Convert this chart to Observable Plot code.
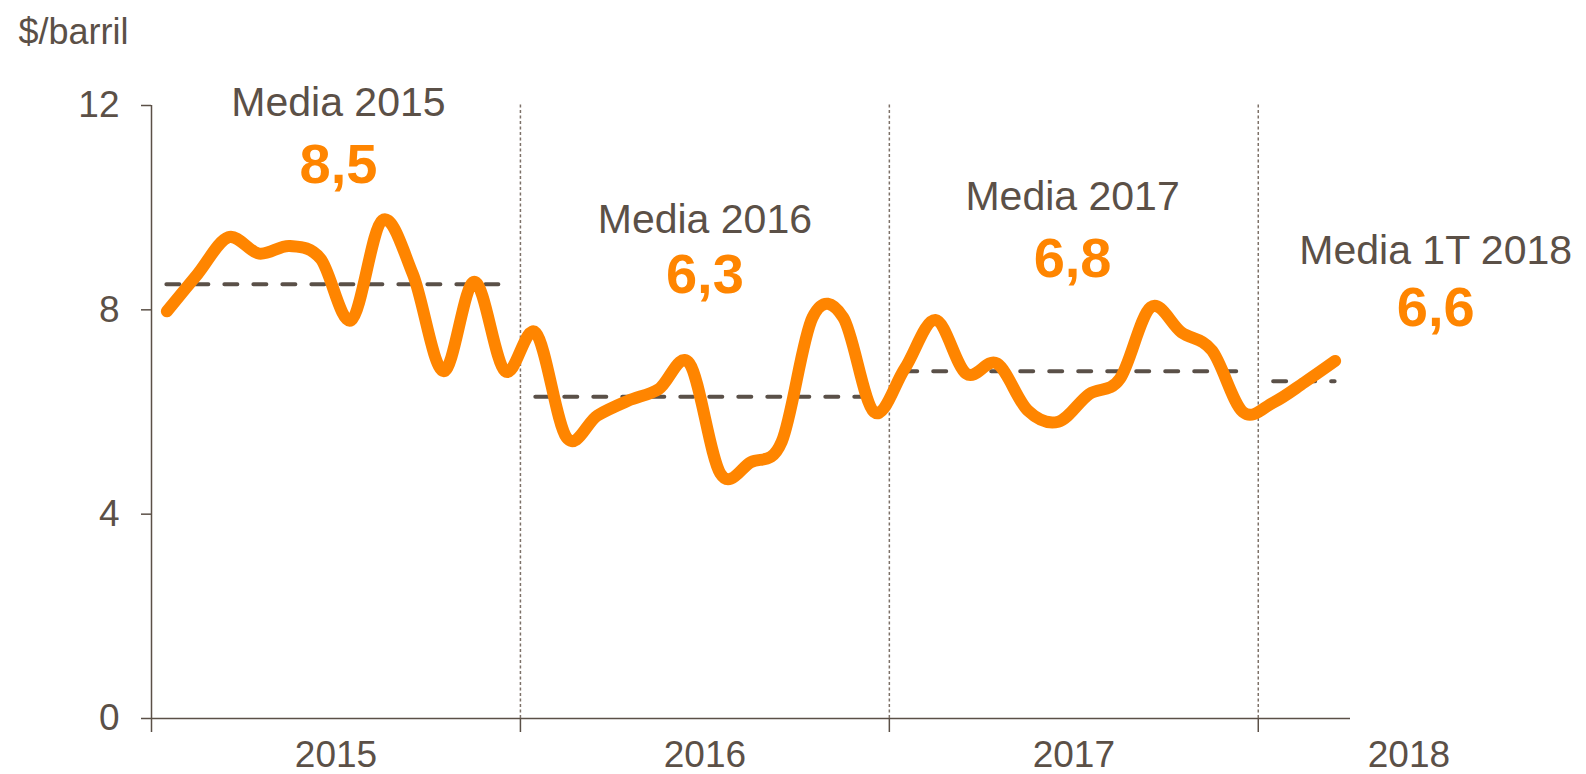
<!DOCTYPE html>
<html>
<head>
<meta charset="utf-8">
<script src="https://cdn.jsdelivr.net/npm/d3@7"></script>
<script src="https://cdn.jsdelivr.net/npm/@observablehq/plot@0.6"></script>
<style>
  html, body { margin: 0; padding: 0; background: #ffffff; }
  #chart { width: 1586px; height: 774px; }
</style>
</head>
<body>
<div id="chart"></div>
<script>
// ---- Data ----
const unitLabel = "$/barril";
const years = ["2015", "2016", "2017", "2018"];
const monthsPerYear = [12, 12, 12, 3];
const values2015 = [7.97, 8.70, 9.42, 9.10, 9.25, 9.00, 7.80, 9.75, 8.70, 6.80, 8.55, 6.80];
const values2016 = [7.55, 5.50, 5.93, 6.22, 6.45, 6.95, 4.80, 5.02, 5.42, 7.85, 7.85, 6.00];
const values2017 = [6.85, 7.80, 6.75, 6.95, 6.03, 5.81, 6.35, 6.65, 8.05, 7.56, 7.20, 6.00];
const values2018 = [6.19, 6.58, 7.00];
const meanLabels = ["Media 2015", "Media 2016", "Media 2017", "Media 1T 2018"];
const meanValues = [8.5, 6.3, 6.8, 6.6];
const yTicks = [0, 4, 8, 12];

// ---- Derived tables ----
const yearValues = [values2015, values2016, values2017, values2018];
const series = yearValues.flat().map((v, i) => ({i, v}));
let acc = 0;
const periods = years.map((y, k) => {
  const start = acc;
  acc += monthsPerYear[k];
  return {year: y, start, end: acc, mean: meanValues[k], label: meanLabels[k],
          num: meanValues[k].toFixed(1).replace(".", ",")};
});
const totalMonths = acc;
const boundaries = periods.slice(1).map(p => p.start);

// annotation placement (data units)
const labelX = [6.08, 18.0, 29.96, 41.77];
const labelY = [11.80, 9.50, 9.95, 8.89];
const numY = [10.49, 8.32, 8.64, 7.69];
const yearLabelX = [6, 18, 30, 40.9];

const ink = "#5b5047";
const orange = "#ff8500";
const font = "'Liberation Sans', Arial, Helvetica, sans-serif";

const chart = Plot.plot({
  width: 1586,
  height: 774,
  marginLeft: 151,
  marginRight: 236,
  marginTop: 105,
  marginBottom: 56,
  style: {fontFamily: font, color: ink, background: "#ffffff", overflow: "visible"},
  x: {domain: [0, totalMonths], axis: null},
  y: {domain: [0, 12], axis: null},
  marks: [
    // y axis
    Plot.axisY({ticks: yTicks, tickSize: 10, tickPadding: 22, fontSize: 37, stroke: ink, strokeWidth: 1.5, color: ink, label: null, anchor: "left"}),
    Plot.ruleX([0], {y1: 0, y2: 12, stroke: ink, strokeWidth: 1.5}),
    // x axis
    Plot.ruleY([0], {stroke: ink, strokeWidth: 1.5}),
    Plot.axisX({ticks: periods.map(p => p.start), tickSize: 14, tickFormat: () => "", stroke: ink, strokeWidth: 1.5, label: null, anchor: "bottom"}),
    Plot.text(years, {x: (d, i) => yearLabelX[i], y: () => 0, text: d => d, dy: 48, lineAnchor: "bottom", fontSize: 37, fill: ink}),
    // year separators
    Plot.ruleX(boundaries, {y1: 0, y2: 12.04, stroke: "#7d7168", strokeWidth: 1.5, strokeDasharray: "3,2.5"}),
    // mean dashed lines
    Plot.ruleY(periods, {y: "mean", x1: d => d.start + 0.5, x2: d => d.end - 0.5, stroke: "#5a5048", strokeWidth: 4, strokeDasharray: "13,16", strokeLinecap: "round"}),
    // price line
    Plot.line(series, {x: d => d.i + 0.5, y: "v", curve: "cardinal", tension: 0, stroke: orange, strokeWidth: 12, strokeLinecap: "round", strokeLinejoin: "round"}),
    // annotations
    Plot.text(periods, {x: (d, i) => labelX[i], y: (d, i) => labelY[i], text: "label", lineAnchor: "bottom", fontSize: 41, fill: ink}),
    Plot.text(periods, {x: (d, i) => labelX[i], y: (d, i) => numY[i], text: "num", lineAnchor: "bottom", fontSize: 56, fontWeight: "bold", fill: orange}),
    // unit label
    Plot.text([unitLabel], {frameAnchor: "top-left", text: d => d, dx: -133, dy: -62, textAnchor: "start", lineAnchor: "bottom", fontSize: 36, fill: ink})
  ]
});
document.getElementById("chart").appendChild(chart);
</script>
</body>
</html>
